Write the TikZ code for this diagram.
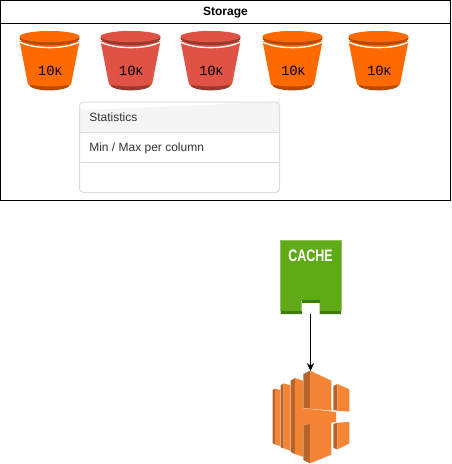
\documentclass[tikz,border=0pt]{standalone}
\usepackage{fontspec}
\setmainfont{Liberation Sans}
\newfontfamily\monofam{Liberation Mono}
\usepackage{xcolor}
\usetikzlibrary{positioning,arrows.meta}

\definecolor{bktOrange}{HTML}{FF6A00}
\definecolor{bktOrangeDark}{HTML}{B84A00}
\definecolor{bktRed}{HTML}{E05243}
\definecolor{bktRedDark}{HTML}{963A2E}
\definecolor{cacheGreen}{HTML}{60A917}
\definecolor{cacheDark}{HTML}{3F7A0C}
\definecolor{lamOrange}{HTML}{F58534}
\definecolor{lamDark}{HTML}{B5652B}
\definecolor{cardLine}{HTML}{DDDDDD}
\definecolor{cardHead}{HTML}{F5F5F5}

\tikzset{
    frameline/.style={draw=black, line width=0.75pt},
    cardtext/.style={anchor=west, inner sep=0pt, font=\fontsize{9}{11}\selectfont, text=black!80},
    bucketlabel/.style={inner sep=0pt, font=\monofam\fontsize{10.5}{12}\selectfont},
    lamface/.style={fill=lamOrange},
    lamside/.style={fill=lamDark},
    pics/bucket/.style 2 args={code={
        \fill[#2] (-21,84) .. controls (-20,92.5) and (20,92.5) .. (21,84) -- cycle;
        \fill[#1] (-30,41) -- (-21.5,84.5) .. controls (-10,87) and (10,87) .. (21.5,84.5) -- (30,41) -- cycle;
        \fill[#2] (0,38.3) ellipse (30 and 7);
        \fill[#1] (0,36.6) ellipse (30 and 5.6);
        \draw[white, line width=1pt] (-30,42) .. controls (-15,49.5) and (15,49.5) .. (30,42);
    }}
}

\begin{document}
\begin{tikzpicture}[x=0.75pt, y=-0.75pt]
    \useasboundingbox (0,0) rectangle (451,464);

    % Storage frame
    \draw[frameline] (0.5,0.5) rectangle (450.5,200.5);
    \draw[frameline] (0.5,23.5) -- (450.5,23.5);
    \node[inner sep=0pt, font=\bfseries\fontsize{9}{11}\selectfont] (storage) at (225.5,13) {Storage};

    % Buckets
    \foreach \i/\xpos/\fillcol/\darkcol in {1/49.5/bktOrange/bktOrangeDark, 2/130.5/bktRed/bktRedDark, 3/210.5/bktRed/bktRedDark, 4/292.5/bktOrange/bktOrangeDark, 5/378.5/bktOrange/bktOrangeDark} {
        \pic at (\xpos,0) {bucket={\fillcol}{\darkcol}};
        \node[bucketlabel] (count\i) at (\xpos+0.5,70.5) {10{\fontsize{9}{12}\selectfont K}};
    }

    % Statistics card
    \fill[cardHead] (79.5,132) -- (79.5,106) arc (180:90:4) -- (275.5,102) arc (90:0:4) -- (279.5,132) -- cycle;
    \draw[cardLine, line width=0.75pt, rounded corners=3pt] (79.5,102) rectangle (279.5,192.5);
    \draw[cardLine, line width=0.75pt] (79.5,132.5) -- (279.5,132.5);
    \draw[cardLine, line width=0.75pt] (79.5,162.5) -- (279.5,162.5);
    \node[cardtext] (stats) at (89,117.5) {Statistics};
    \node[cardtext] (minmax) at (89,148) {Min / Max per column};

    % Cache icon
    \fill[cacheGreen] (280.5,240) -- (341,240) -- (341,314) -- (319.5,314) -- (319.5,300) -- (301.5,300) -- (301.5,314) -- (280.5,314) -- cycle;
    \fill[cacheDark] (280.5,311) rectangle (301.5,314);
    \fill[cacheDark] (319.5,311) rectangle (341,314);
    \fill[cacheDark] (301.5,300) rectangle (319.5,303);
    \draw[cacheGreen!70!white, line width=0.5pt] (280.5,311) -- (280.5,240.3) -- (341,240.3) -- (341,311);
    \node[inner sep=0pt, text=white, font=\bfseries\fontsize{12.5}{15}\selectfont] (cachetext) at (310.5,256) {\scalebox{0.75}[1]{CACHE}};
    \coordinate (cache) at (310.5,314);

    % Lambda icon, back strips
    \begin{scope}[shift={(260,360)}, x=0.25pt, y=-0.25pt]
        \fill[lamside] (38,90) -- (45,86) -- (45,253) -- (38,250) -- cycle;
        \fill[lamface] (45,86) -- (61,90) -- (61,258) -- (45,253) -- cycle;
        \fill[lamside] (62,76) -- (71,70) -- (71,265) -- (62,262) -- cycle;
        \fill[lamface] (71,70) -- (91,76) -- (91,272) -- (71,265) -- cycle;
        \fill[lamside] (92,62) -- (105,54) -- (105,282) -- (92,276) -- cycle;
        \fill[lamface] (105,54) -- (129,62) -- (129,290) -- (105,282) -- cycle;
        % middle bar
        \fill[lamface] (122,144) -- (228,156) -- (228,186) -- (122,200) -- cycle;
        % main blocks
        \fill[lamside] (130,42) -- (150,32) -- (150,146) -- (130,144) -- cycle;
        \fill[lamface] (150,32) -- (214,62) -- (214,152) -- (150,146) -- cycle;
        \fill[lamside] (130,198) -- (150,192) -- (150,310) -- (130,300) -- cycle;
        \fill[lamface] (150,192) -- (214,184) -- (214,284) -- (150,310) -- cycle;
        % right blocks
        \fill[lamside] (220,78) -- (232,72) -- (232,152) -- (220,150) -- cycle;
        \fill[lamface] (232,72) -- (268,88) -- (268,155) -- (232,152) -- cycle;
        \fill[lamside] (220,192) -- (232,188) -- (232,268) -- (220,264) -- cycle;
        \fill[lamface] (232,188) -- (268,186) -- (268,250) -- (232,268) -- cycle;
    \end{scope}
    \coordinate (lambda) at (310.5,371);

    \draw[-{Stealth[length=6pt,width=5.5pt]}, line width=0.75pt] (cache) -- (lambda);
\end{tikzpicture}
\end{document}
